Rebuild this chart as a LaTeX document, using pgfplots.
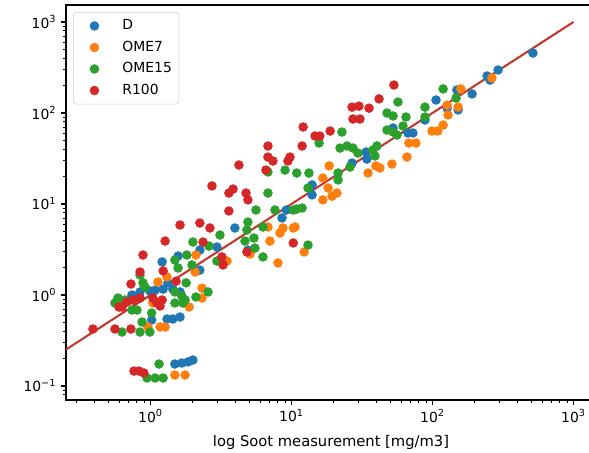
\documentclass[border=0pt]{standalone}
\usepackage{fontspec}
\setmainfont{DejaVu Sans}
\usepackage{pgfplots}
\pgfplotsset{compat=1.18}
\definecolor{cD}{HTML}{1F77B4}
\definecolor{cO}{HTML}{FF7F0E}
\definecolor{cG}{HTML}{2CA02C}
\definecolor{cR}{HTML}{D62728}
\definecolor{lineC}{RGB}{192,57,43}
\begin{document}
\begin{tikzpicture}
\begin{axis}[
  xmode=log, ymode=log,
  scale only axis, width=381.6pt, height=284.4pt,
  at={(0,0)}, anchor=south west,
  xmin=0.2517, xmax=1445, ymin=0.0702, ymax=1538,
  axis line style={line width=0.8pt},
  tick align=outside, tick pos=left,
  major tick length=3.5pt, minor tick length=2pt,
  major tick style={black, line width=0.8pt},
  minor tick style={black, line width=0.6pt},
  xtick={1,10,100,1000},
  xticklabels={10\textsuperscript{0},10\textsuperscript{1},10\textsuperscript{2},10\textsuperscript{3}},
  ytick={0.1,1,10,100,1000},
  yticklabels={10\textsuperscript{−1},10\textsuperscript{0},10\textsuperscript{1},10\textsuperscript{2},10\textsuperscript{3}},
  minor xtick={0.3,0.4,0.5,0.6,0.7,0.8,0.9,2,3,4,5,6,7,8,9,20,30,40,50,60,70,80,90,200,300,400,500,600,700,800,900},
  minor ytick={0.08,0.09,0.2,0.3,0.4,0.5,0.6,0.7,0.8,0.9,2,3,4,5,6,7,8,9,20,30,40,50,60,70,80,90,200,300,400,500,600,700,800,900},
  ticklabel style={font=\fontsize{10}{12}\selectfont},
  xlabel={log Soot measurement [mg/m3]},
  xlabel style={font=\fontsize{10.6}{12}\selectfont, yshift=-2.5pt},
  legend cell align=left,
  legend image code/.code={\path (0pt,0pt) (30pt,0pt); \draw[#1] plot coordinates {(15pt,0pt)};},
  legend style={at={(0.0133,0.982)}, anchor=north west, draw=black!20, rounded corners=2pt,
    inner xsep=0pt, inner ysep=5pt, row sep=6pt,
    font=\fontsize{10}{12}\selectfont,
    nodes={inner xsep=5pt, inner ysep=0pt, text height=7.5pt, text depth=2pt}},
  every axis plot/.append style={only marks, mark=*, mark size=3.2pt},
]
\addplot[cD, mark options={draw=cD, fill=cD, line width=0.4pt}] coordinates {
(516,456) (244,255) (256,230) (292,297) (191,162) (149,179) (106,139) (152,108)
(127,113) (88.5,83.8) (52.5,68.4) (67,60.3) (72.7,60.3) (26.9,28.2) (33.8,37.3)
(34.3,31.2) (14.0,16.2) (14.0,12.6) (9.2,8.59) (8.57,7.02) (3.97,5.45) (4.91,3.12)
(2.96,3.37) (2.24,3.12) (2.24,1.88) (1.57,2.68) (1.21,2.31) (1.44,1.16) (1.33,1.36)
(0.739,1.0) (0.843,1.08) (0.99,1.11) (1.08,1.13) (1.23,1.16) (1.62,1.08)
(1.02,0.531) (1.31,0.545) (1.44,0.545) (1.62,0.573)
(1.49,0.1745) (1.67,0.179) (1.85,0.184) (2.00,0.193)
};
\addlegendentry{D}
\addplot[cO, mark options={draw=cO, fill=cO, line width=0.4pt}] coordinates {
(264,243) (159,184) (127,122) (152,116) (129,95.1) (119,73.8) (99.2,63.4) (109,63.4)
(68.1,46.8) (76.4,46.8) (65.9,32.8) (51.6,27.5) (39.7,26.2) (42.4,24.9) (34.9,21.9)
(18.5,26.2) (16.7,19.3) (18.2,15.0) (21.0,13.2) (19.4,12.2) (16.7,11.1)
(10.6,5.59) (12.3,2.97) (8.71,5.45) (10.3,5.45) (6.81,5.59) (8.29,4.80) (7.04,3.92)
(8.02,2.25) (5.08,2.82) (3.49,2.36) (2.10,2.75) (2.07,1.79) (1.31,1.58) (1.13,1.39)
(2.32,1.19) (2.32,0.927) (1.88,0.738) (1.04,0.817) (0.96,0.445) (1.17,0.445)
(1.27,0.445) (1.49,0.132) (1.76,0.132)
};
\addlegendentry{OME7}
\addplot[cG, mark options={draw=cG, fill=cG, line width=0.4pt}] coordinates {
(119,184) (147,146) (88.5,116) (88.5,90.4) (56.9,132) (47.6,100) (52.5,92.7) (64.9,90.4)
(47.6,65.0) (56.0,57.3) (61.8,72.0) (52.5,62) (22.8,61.8) (15.7,46.8) (22.1,41.2)
(24.8,43.4) (27.3,41.2) (29.6,36.3) (40.4,43.4) (37.8,39.2) (39.1,33.7) (26.0,25.5)
(21.4,21.9) (21.4,18.4) (10.9,21.9) (13.3,21.9) (13.1,15.0) (9.0,23.6) (6.81,22.5)
(6.81,13.2) (10.9,8.81) (11.9,9.04) (10.3,8.59) (7.64,8.59) (5.60,8.59) (6.28,5.59)
(4.91,6.34) (4.83,5.18) (5.42,4.23) (4.68,3.92) (5.51,3.28) (6.28,2.62) (13.1,3.54)
(3.11,4.56) (2.00,3.82) (2.60,3.45) (2.96,2.36) (1.81,2.75) (1.49,2.42) (1.57,1.98)
(1.97,2.14) (1.79,1.36) (0.843,1.66) (0.885,1.36) (0.914,1.22) (1.49,1.08) (1.67,0.975)
(1.76,0.881) (1.49,0.817) (1.70,0.817) (2.10,0.951) (2.56,1.08) (0.588,0.927)
(0.560,0.817) (0.659,0.881) (0.62,0.75) (0.739,0.684) (0.802,0.684) (1.02,0.634)
(0.871,0.505) (0.628,0.392) (0.843,0.392) (0.99,0.392) (1.15,0.1745)
(0.945,0.1225) (1.08,0.1225) (1.23,0.1225)
};
\addlegendentry{OME15}
\addplot[cR, mark options={draw=cR, fill=cR, line width=0.4pt}] coordinates {
(53.3,203) (41.8,143) (26.9,116) (30.1,119) (35.5,113) (27.3,85.9) (30.6,85.9)
(12.1,70.2) (18.8,63.4) (14.7,55.9) (15.9,55.9) (11.9,43.4) (6.81,43.4) (9.76,32.8)
(9.44,29.7) (6.81,32.8) (7.39,29.7) (4.24,26.8) (6.59,23.6) (2.73,15.8) (3.60,13.2)
(3.85,14.6) (4.76,13.2) (4.91,11.1) (3.60,8.38) (1.62,5.88) (2.24,6.18) (2.64,5.45)
(1.27,3.92) (2.36,3.82) (10.3,3.73) (4.83,2.97) (3.21,2.62) (3.27,2.14) (0.885,2.75)
(0.843,1.79) (1.23,1.84) (0.727,1.32) (1.52,1.42) (0.598,0.738) (0.628,0.738)
(0.681,0.838) (0.751,0.881) (0.843,0.927) (1.04,0.927) (1.11,0.817) (1.21,0.881)
(1.17,0.757) (0.391,0.423) (0.560,0.423) (0.727,0.423) (0.764,0.146) (0.828,0.146)
(0.899,0.139)
};
\addlegendentry{R100}
\addplot[lineC, line width=1.5pt, no marks, forget plot, only marks=false, sharp plot] coordinates {(0.1,0.1) (1000,1000)};
\end{axis}
\pgfresetboundingbox
\useasboundingbox (-47.52pt,-38.16pt) rectangle (376.56pt,288pt);
\end{tikzpicture}
\end{document}
